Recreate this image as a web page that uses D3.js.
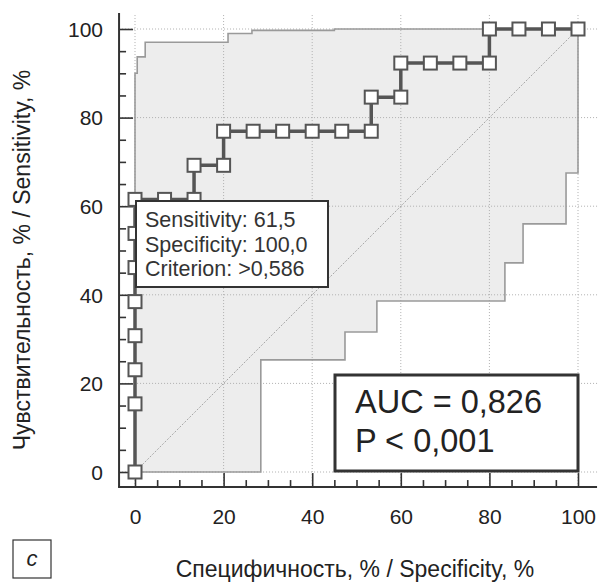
<!DOCTYPE html>
<html>
<head>
<meta charset="utf-8">
<script src="https://cdn.jsdelivr.net/npm/d3@7"></script>
<style>
  body { margin: 0; background: #fff; }
  svg { display: block; font-family: "Liberation Sans", Arial, sans-serif; }
</style>
</head>
<body>
<div class="render"></div>
<script>
'use strict';

// ROC curve (x = 100 - specificity, y = sensitivity), in %
var rocX = [0, 0, 0, 0, 0, 0, 0, 0, 6.67, 13.33, 13.33, 20, 20, 26.67, 33.33, 40, 46.67, 53.33, 53.33, 60, 60, 66.67, 73.33, 80, 80, 86.67, 93.33, 100];
var rocY = [0, 15.38, 23.08, 30.77, 38.46, 46.15, 53.85, 61.54, 61.54, 61.54, 69.23, 69.23, 76.92, 76.92, 76.92, 76.92, 76.92, 76.92, 84.62, 84.62, 92.31, 92.31, 92.31, 92.31, 100, 100, 100, 100];

// confidence band, step corners
var ciUpperX = [0, 0, 0.5, 2.3, 21, 26.4, 45, 100];
var ciUpperY = [0, 90, 93.7, 97, 99, 99.7, 100, 100];
var ciLowerX = [0, 28.4, 47.4, 54.6, 83.5, 87.6, 97.3, 100];
var ciLowerY = [0, 25.3, 31.6, 38.6, 47.2, 56, 67.5, 100];

var majorTicks = [0, 20, 40, 60, 80, 100];
var minorTicks = [5, 10, 15, 25, 30, 35, 45, 50, 55, 65, 70, 75, 85, 90, 95];

var tipLines = ['Sensitivity: 61,5', 'Specificity: 100,0', 'Criterion: >0,586'];
var aucLines = ['AUC = 0,826', 'P < 0,001'];
var xTitle = 'Специфичность, % / Specificity, %';
var yTitle = 'Чувствительность, % / Sensitivity, %';
var panelLabel = 'c';

function draw() {
   var w = 598, h = 584;
   var x = d3.scaleLinear().domain([0, 100]).range([135, 578]);
   var y = d3.scaleLinear().domain([0, 100]).range([472, 29]);
   var x0 = -3.6, x1 = 104.3, y0 = -3.4, y1 = 103.6;

   var svg = d3.select('.render').append('svg').attr('width', w).attr('height', h);

   function steps(xs, ys) {
      var pts = [[xs[0], ys[0]]];
      for (var i = 1; i < xs.length; i++) {
         pts.push([xs[i], ys[i - 1]]);
         pts.push([xs[i], ys[i]]);
      }
      return pts;
   }
   var line = d3.line().x(function (d) { return x(d[0]); }).y(function (d) { return y(d[1]); });

   var up = steps(ciUpperX, ciUpperY);
   var lo = steps(ciLowerX, ciLowerY);

   // band fill
   svg.append('path').attr('d', line(up.concat(lo.slice().reverse())) + 'Z')
      .attr('fill', '#ededed').attr('stroke', 'none');

   // dotted grid
   svg.selectAll('line.gh').data(majorTicks).enter().append('line').attr('class', 'gh')
      .attr('x1', x(x0)).attr('x2', x(x1)).attr('y1', function (d) { return y(d); }).attr('y2', function (d) { return y(d); })
      .attr('stroke', '#b0b0b0').attr('stroke-width', 1).attr('stroke-dasharray', '1,2');
   svg.selectAll('line.gv').data(majorTicks).enter().append('line').attr('class', 'gv')
      .attr('y1', y(y0)).attr('y2', y(y1)).attr('x1', function (d) { return x(d); }).attr('x2', function (d) { return x(d); })
      .attr('stroke', '#b0b0b0').attr('stroke-width', 1).attr('stroke-dasharray', '1,2');

   // band outline
   svg.append('path').attr('d', line(up)).attr('fill', 'none').attr('stroke', '#9a9a9a').attr('stroke-width', 1.6);
   svg.append('path').attr('d', line(lo)).attr('fill', 'none').attr('stroke', '#9a9a9a').attr('stroke-width', 1.6);

   // diagonal
   svg.append('path').attr('d', line([[0, 0], [100, 100]])).attr('fill', 'none')
      .attr('stroke', '#a8a8a8').attr('stroke-width', 1).attr('stroke-dasharray', '2,1.5');

   // axes
   var axY = d3.axisLeft(y).tickValues(majorTicks).tickSize(-14).tickPadding(16).tickFormat(d3.format('d'));
   var gy = svg.append('g').attr('transform', 'translate(' + x(x0) + ',0)').call(axY);
   var axYm = d3.axisLeft(y).tickValues(minorTicks).tickSize(-7).tickFormat('');
   svg.append('g').attr('transform', 'translate(' + x(x0) + ',0)').call(axYm);
   var axX = d3.axisBottom(x).tickValues(majorTicks).tickSize(-14).tickPadding(22).tickFormat(d3.format('d'));
   var gx = svg.append('g').attr('transform', 'translate(0,' + y(y0) + ')').call(axX);
   var axXm = d3.axisBottom(x).tickValues(minorTicks).tickSize(-7).tickFormat('');
   svg.append('g').attr('transform', 'translate(0,' + y(y0) + ')').call(axXm);

   svg.selectAll('.domain').remove();
   svg.selectAll('.tick line').attr('stroke', '#333').attr('stroke-width', 1.6);
   svg.selectAll('.tick text').style('font-size', '21px').attr('fill', '#222')
      .style('font-family', '"Liberation Sans", Arial, sans-serif');
   gy.selectAll('.tick text').attr('dy', '0.35em');

   svg.append('line').attr('x1', x(x0)).attr('x2', x(x0)).attr('y1', y(y1)).attr('y2', y(y0))
      .attr('stroke', '#333').attr('stroke-width', 2);
   svg.append('line').attr('x1', x(x0) - 1).attr('x2', x(x1)).attr('y1', y(y0)).attr('y2', y(y0))
      .attr('stroke', '#333').attr('stroke-width', 2);

   // ROC curve
   var roc = rocX.map(function (d, i) { return [d, rocY[i]]; });
   svg.append('path').attr('d', line(roc)).attr('fill', 'none').attr('stroke', '#555').attr('stroke-width', 3.5);
   svg.selectAll('rect.pt').data(roc).enter().append('rect').attr('class', 'pt')
      .attr('x', function (d) { return x(d[0]) - 6.5; }).attr('y', function (d) { return y(d[1]) - 6.5; })
      .attr('width', 13).attr('height', 13).attr('fill', '#fff').attr('stroke', '#555').attr('stroke-width', 2);

   // tooltip box
   svg.append('rect').attr('x', 136).attr('y', 201).attr('width', 192).attr('height', 86)
      .attr('fill', '#fff').attr('stroke', '#333').attr('stroke-width', 2);
   svg.selectAll('text.tip').data(tipLines).enter().append('text').attr('class', 'tip')
      .attr('x', 145).attr('y', function (d, i) { return 227 + i * 24.5; }).text(function (d) { return d; })
      .style('font-size', '21.5px').attr('fill', '#333');

   // AUC box
   svg.append('rect').attr('x', 335).attr('y', 375).attr('width', 243).attr('height', 96)
      .attr('fill', '#fff').attr('stroke', '#333').attr('stroke-width', 3);
   svg.selectAll('text.auc').data(aucLines).enter().append('text').attr('class', 'auc')
      .attr('x', 355).attr('y', function (d, i) { return 413 + i * 39; }).text(function (d) { return d; })
      .style('font-size', '32.5px').attr('fill', '#222');

   // titles
   svg.append('text').text(xTitle).attr('x', 355).attr('y', 577).style('text-anchor', 'middle')
      .style('font-size', '23px').attr('fill', '#222');
   svg.append('text').text(yTitle).attr('transform', 'translate(30,260)rotate(-90)').style('text-anchor', 'middle')
      .style('font-size', '23px').attr('fill', '#222');

   // panel label
   svg.append('rect').attr('x', 13).attr('y', 540).attr('width', 38).attr('height', 38)
      .attr('fill', '#fff').attr('stroke', '#333').attr('stroke-width', 1.2);
   svg.append('text').text(panelLabel).attr('x', 32).attr('y', 566).style('text-anchor', 'middle')
      .style('font-size', '22px').style('font-style', 'italic').attr('fill', '#222');
}

draw();
</script>
</body>
</html>
